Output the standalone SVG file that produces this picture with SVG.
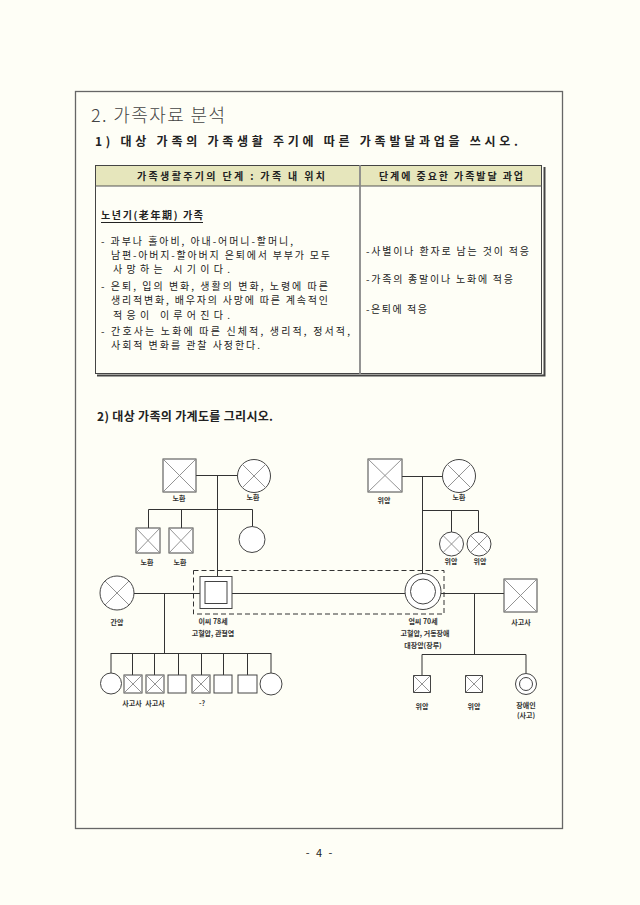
<svg xmlns="http://www.w3.org/2000/svg" width="640" height="905" viewBox="0 0 640 905">
<style>
text{font-family:"Noto Sans CJK KR","Noto Sans",sans-serif;fill:#222}
.tt{font-size:18px;fill:#444;font-weight:300}
.hd{font-size:12px;font-weight:bold}
.bd{font-size:10px}
.lb{font-size:7px;font-weight:bold;text-anchor:middle;fill:#333}
.sh{fill:#fff;stroke:#444;stroke-width:1}
.x{stroke:#888;stroke-width:0.9}
.ln{stroke:#333;stroke-width:1;fill:none}
</style>
<rect width="640" height="905" fill="#fefef6"/>
<rect x="75.5" y="91.5" width="487" height="737" fill="none" stroke="#666" stroke-width="1.3"/>
<text class="tt" x="91" y="122" textLength="134" lengthAdjust="spacing">2. 가족자료 분석</text>
<text class="hd" x="95" y="146" textLength="423" lengthAdjust="spacing">1) 대상 가족의 가족생활 주기에 따른 가족발달과업을 쓰시오.</text>
<g id="table">
<rect x="95" y="165" width="447" height="21" fill="#e6e6bc"/>
<rect x="95.5" y="165.5" width="446" height="208" fill="none" stroke="#444" stroke-width="1"/>
<line x1="95" y1="186" x2="542" y2="186" stroke="#555" stroke-width="1"/>
<line x1="360" y1="165" x2="360" y2="374" stroke="#888" stroke-width="1.8"/>
<polyline points="544.5,167 544.5,375.5 97,375.5" fill="none" stroke="#444" stroke-width="2"/>
<text class="bd" x="137" y="180" textLength="188" lengthAdjust="spacing" font-weight="bold">가족생활주기의 단계 : 가족 내 위치</text>
<text class="bd" x="379" y="180" textLength="144" lengthAdjust="spacing" font-weight="bold">단계에 중요한 가족발달 과업</text>
<text class="bd" x="101" y="219" textLength="102" lengthAdjust="spacing" font-weight="bold">노년기(老年期) 가족</text>
<line x1="101" y1="222.5" x2="203" y2="222.5" stroke="#222" stroke-width="1"/>
<text class="bd" x="101" y="245" textLength="192" lengthAdjust="spacing">- 과부나 홀아비, 아내-어머니-할머니,</text>
<text class="bd" x="111" y="259" textLength="219" lengthAdjust="spacing">남편-아버지-할아버지 은퇴에서 부부가 모두</text>
<text class="bd" x="113" y="273" textLength="117" lengthAdjust="spacing">사망하는 시기이다.</text>
<text class="bd" x="101" y="290" textLength="227" lengthAdjust="spacing">- 은퇴, 입의 변화, 생활의 변화, 노령에 따른</text>
<text class="bd" x="111" y="304" textLength="217" lengthAdjust="spacing">생리적변화, 배우자의 사망에 따른 계속적인</text>
<text class="bd" x="113" y="319" textLength="117" lengthAdjust="spacing">적응이 이루어진다.</text>
<text class="bd" x="101" y="335" textLength="249" lengthAdjust="spacing">- 간호사는 노화에 따른 신체적, 생리적, 정서적,</text>
<text class="bd" x="111" y="349" textLength="149" lengthAdjust="spacing">사회적 변화를 관찰 사정한다.</text>
<text class="bd" x="366" y="255" textLength="163" lengthAdjust="spacing">-사별이나 환자로 남는 것이 적응</text>
<text class="bd" x="366" y="283" textLength="147" lengthAdjust="spacing">-가족의 종말이나 노화에 적응</text>
<text class="bd" x="366" y="313" textLength="61" lengthAdjust="spacing">-은퇴에 적응</text>
</g>
<text class="hd" x="97" y="421" textLength="176" lengthAdjust="spacing">2) 대상 가족의 가계도를 그리시오.</text>
<g id="connectors" class="ln">
<line x1="195" y1="475.5" x2="237" y2="475.5"/>
<line x1="217.5" y1="475" x2="217.5" y2="576"/>
<polyline points="148.5,528 148.5,509.5 252.5,509.5 252.5,526"/>
<line x1="181.5" y1="509" x2="181.5" y2="528"/>
<line x1="402" y1="476.5" x2="443" y2="476.5"/>
<line x1="422.5" y1="476" x2="422.5" y2="573"/>
<polyline points="422,510.5 478.5,510.5 478.5,532"/>
<line x1="451.5" y1="510" x2="451.5" y2="532"/>
<line x1="134" y1="593.5" x2="200" y2="593.5"/>
<line x1="232" y1="593.5" x2="405" y2="593.5"/>
<line x1="441" y1="593.5" x2="504" y2="593.5"/>
<line x1="164.5" y1="593" x2="164.5" y2="653.5"/>
<line x1="474.5" y1="593" x2="474.5" y2="654.5"/>
<line x1="111" y1="653.5" x2="271" y2="653.5"/>
<polyline points="111,653 111,673"/>
<line x1="132.5" y1="653" x2="132.5" y2="675"/>
<line x1="154.5" y1="653" x2="154.5" y2="675"/>
<line x1="178.5" y1="653" x2="178.5" y2="675"/>
<line x1="201.5" y1="653" x2="201.5" y2="675"/>
<line x1="223.5" y1="653" x2="223.5" y2="675"/>
<line x1="247.5" y1="653" x2="247.5" y2="675"/>
<line x1="271" y1="653" x2="271" y2="673"/>
<polyline points="422,675 422,654.5 526,654.5 526,673"/>
<rect x="193.5" y="570.5" width="250.5" height="43.5" stroke-dasharray="5,3"/>
</g>
<g id="pgf">
<rect class="sh" x="163" y="459" width="33" height="33"/>
<path class="x" d="M163,459L196,492M196,459L163,492"/>
<text class="lb" x="179" y="501">노환</text>
</g>
<g id="pgm">
<circle class="sh" cx="254" cy="476" r="16.5"/>
<path class="x" d="M242.3,464.3L265.7,487.7M265.7,464.3L242.3,487.7"/>
<text class="lb" x="253" y="500">노환</text>
</g>
<g id="pu1">
<rect class="sh" x="136" y="528" width="24" height="25"/>
<path class="x" d="M136,528L160,553M160,528L136,553"/>
<text class="lb" x="147" y="565">노환</text>
</g>
<g id="pu2">
<rect class="sh" x="169" y="528" width="24" height="25"/>
<path class="x" d="M169,528L193,553M193,528L169,553"/>
<text class="lb" x="180" y="565">노환</text>
</g>
<g id="pa">
<circle class="sh" cx="252" cy="539.5" r="13"/>
</g>
<g id="mgf">
<rect class="sh" x="368" y="459" width="34" height="33"/>
<path class="x" d="M368,459L402,492M402,459L368,492"/>
<text class="lb" x="384" y="503">위암</text>
</g>
<g id="mgm">
<circle class="sh" cx="459" cy="476" r="16.5"/>
<path class="x" d="M447.3,464.3L470.7,487.7M470.7,464.3L447.3,487.7"/>
<text class="lb" x="459" y="500">노환</text>
</g>
<g id="ma1">
<circle class="sh" cx="451.5" cy="544" r="12"/>
<path class="x" d="M443,535.5L460,552.5M460,535.5L443,552.5"/>
<text class="lb" x="451" y="564">위암</text>
</g>
<g id="ma2">
<circle class="sh" cx="479" cy="544" r="12"/>
<path class="x" d="M470.5,535.5L487.5,552.5M487.5,535.5L470.5,552.5"/>
<text class="lb" x="480" y="564">위암</text>
</g>
<g id="wife1">
<circle class="sh" cx="117" cy="593" r="17"/>
<path class="x" d="M105,581L129,605M129,581L105,605"/>
<text class="lb" x="117" y="625">간암</text>
</g>
<g id="lee">
<rect class="sh" x="200" y="576.5" width="32" height="32"/>
<rect class="sh" x="205" y="581.5" width="22" height="22"/>
<text class="lb" x="213" y="624">이씨 78세</text>
<text class="lb" x="213" y="636">고혈압, 관절염</text>
</g>
<g id="eom">
<circle class="sh" cx="423" cy="591.5" r="18"/>
<circle class="sh" cx="423" cy="591.5" r="12.5"/>
<text class="lb" x="423" y="624">엄씨 70세</text>
<text class="lb" x="425" y="636">고혈압, 거동장애</text>
<text class="lb" x="423" y="648">대장암(장루)</text>
</g>
<g id="husb2">
<rect class="sh" x="504" y="579" width="33" height="33"/>
<path class="x" d="M504,579L537,612M537,579L504,612"/>
<text class="lb" x="521" y="625">사고사</text>
</g>
<g id="c1"><circle class="sh" cx="111" cy="683.5" r="10.5"/></g>
<g id="c2"><rect class="sh" x="124" y="675" width="18" height="18"/><path class="x" d="M124,675L142,693M142,675L124,693"/><text class="lb" x="132" y="706">사고사</text></g>
<g id="c3"><rect class="sh" x="146" y="675" width="18" height="18"/><path class="x" d="M146,675L164,693M164,675L146,693"/><text class="lb" x="155" y="706">사고사</text></g>
<g id="c4"><rect class="sh" x="168" y="675" width="18" height="18"/></g>
<g id="c5"><rect class="sh" x="192" y="675" width="18" height="18"/><path class="x" d="M192,675L210,693M210,675L192,693"/><text class="lb" x="202" y="706">-?</text></g>
<g id="c6"><rect class="sh" x="214" y="675" width="18" height="18"/></g>
<g id="c7"><rect class="sh" x="238" y="675" width="19" height="18"/></g>
<g id="c8"><circle class="sh" cx="271" cy="684" r="11"/></g>
<g id="s1"><rect class="sh" x="413.5" y="675.5" width="17" height="17"/><path class="x" d="M413.5,675.5L430.5,692.5M430.5,675.5L413.5,692.5"/><text class="lb" x="422" y="709">위암</text></g>
<g id="s2"><rect class="sh" x="465.5" y="675.5" width="17" height="17"/><path class="x" d="M465.5,675.5L482.5,692.5M482.5,675.5L465.5,692.5"/><text class="lb" x="474" y="709">위암</text></g>
<g id="s3"><circle class="sh" cx="526" cy="684" r="10.5"/><circle class="sh" cx="526" cy="684" r="6.5"/><text class="lb" x="526" y="708">장애인</text><text class="lb" x="526" y="718">(사고)</text></g>
<text x="320" y="857" font-size="11" text-anchor="middle" fill="#444" letter-spacing="2">- 4 -</text>
</svg>
